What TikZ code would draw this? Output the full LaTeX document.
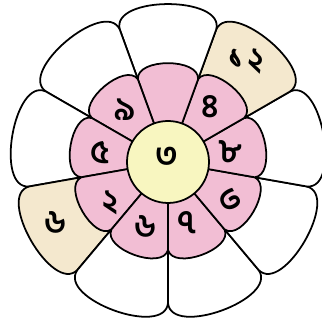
\documentclass[tikz,border=0pt]{standalone}
\usepackage{fontspec}
\newfontfamily\bn[Script=Bengali]{Hind Siliguri}
\definecolor{petalpink}{RGB}{242,190,212}
\definecolor{petaltan}{RGB}{244,232,206}
\definecolor{heart}{RGB}{248,246,192}
\tikzset{
  every picture/.style={line width=1.5pt},
  num/.style={font=\bn\bfseries\fontsize{28}{28}\selectfont,inner sep=0pt},
  leaf/.style={draw,line join=round},
}

\begin{document}
\begin{tikzpicture}[x=0.03cm,y=0.03cm]
\useasboundingbox (-168,-159) rectangle (154,162);
% outer ring
\foreach \a/\c in {-90/white,-50/white,-10/white,30/petaltan,70/white,110/white,150/white,190/petaltan,230/white}
  \path[leaf,fill=\c] (0,0) -- (\a:141) .. controls (\a+1:176) and (\a+39:176) .. (\a+40:141) -- cycle;
% inner ring
\foreach \a in {-90,-50,...,230}
  \path[leaf,fill=petalpink] (0,0) -- (\a:88) .. controls (\a+3:109) and (\a+37:109) .. (\a+40:88) -- cycle;
\draw[fill=heart] (0,0) circle (41);
\node[num] (mid) at (-1,5) {৩};
\node[num] (n9) at (-43,52) {৯}; \node[num] (n4) at (42,55) {৪}; \node[num] (n8) at (62,10) {৮};
\node[num,rotate=-60] (n3) at (62,-38) {৩}; \node[num] (n7) at (19,-61) {৭}; \node[num] (n6) at (-23,-65) {৬};
\node[num] (n2) at (-58,-41) {২}; \node[num] (n5) at (-68,9) {৫};
\node[num,rotate=-10] (o12) at (78,102) {১\kern3pt২}; \node[num] (o6) at (-113,-61) {৬};
\end{tikzpicture}
\end{document}
